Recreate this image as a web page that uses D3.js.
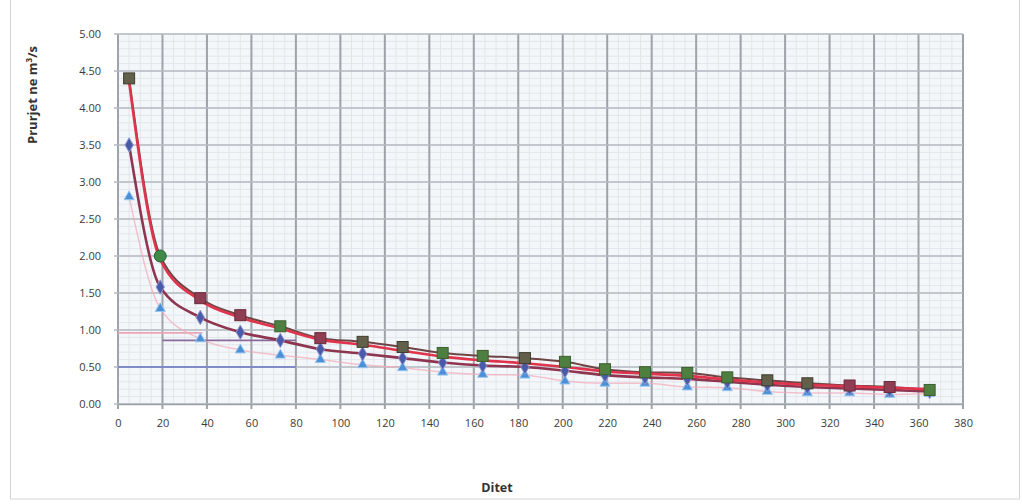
<!DOCTYPE html>
<html>
<head>
<meta charset="utf-8">
<script src="https://cdn.jsdelivr.net/npm/d3@7"></script>
<style>
  body { margin: 0; background: #fff; }
  svg text { font-family: "Open Sans", "DejaVu Sans", sans-serif; }
</style>
</head>
<body>
<div id="chart"></div>
<script>
// days of the observations
const days = [5, 19, 37, 55, 73, 91, 110, 128, 146, 164, 183, 201, 219, 237, 256, 274, 292, 310, 329, 347, 365];

// upper squares (three overlapping series, null where hidden)
const sqMaroon = [null, null, 1.43, 1.20, null, 0.89, null, null, null, null, null, null, null, null, null, null, null, null, 0.25, 0.23, null];
const sqGreen  = [null, null, null, null, 1.05, null, null, null, 0.69, 0.65, null, 0.57, 0.47, 0.43, 0.42, 0.36, null, null, null, null, 0.19];
const sqOlive  = [4.40, null, null, null, null, null, 0.84, 0.77, null, null, 0.62, null, null, null, null, null, 0.32, 0.28, null, null, null];
const sqAll    = [4.40, 2.00, 1.43, 1.20, 1.05, 0.89, 0.84, 0.77, 0.69, 0.65, 0.62, 0.57, 0.47, 0.43, 0.42, 0.36, 0.32, 0.28, 0.25, 0.23, 0.19];
const circleGreen = [null, 2.00, null, null, null, null, null, null, null, null, null, null, null, null, null, null, null, null, null, null, null];

// red fitted curve (upper) and maroon curve (lower)
const upperFit = [4.35, 1.95, 1.40, 1.17, 1.02, 0.87, 0.80, 0.72, 0.64, 0.59, 0.55, 0.50, 0.44, 0.41, 0.38, 0.33, 0.29, 0.26, 0.24, 0.22, 0.20];
const diamonds = [3.50, 1.58, 1.17, 0.97, 0.86, 0.74, 0.68, 0.62, 0.56, 0.52, 0.50, 0.45, 0.39, 0.36, 0.34, 0.30, 0.26, 0.23, 0.21, 0.19, 0.17];
const triangles = [2.80, 1.29, 0.88, 0.73, 0.66, 0.60, 0.53, 0.49, 0.43, 0.40, 0.39, 0.31, 0.28, 0.28, 0.23, 0.22, 0.17, 0.15, 0.15, 0.13, 0.14];

// short horizontal reference lines: [value, fromDay, toDay]
const refLines = [[0.96, 0, 38], [0.86, 20, 80], [0.50, 0, 80]];
const refColors = ["#eaa6b4", "#8a6a9a", "#7f8cc8"];

const xTicks = d3.range(0, 381, 20);
const yTicks = d3.range(0, 5.01, 0.5);

const W = 1022, H = 504;
const svg = d3.select("#chart").append("svg")
  .attr("width", W).attr("height", H);

// outer frame
svg.append("rect")
  .attr("x", 10.5).attr("y", -2).attr("width", 1009).attr("height", 501)
  .attr("fill", "none").attr("stroke", "#d4d4d4");

const x = d3.scaleLinear().domain([0, 380]).range([118, 963]);
const y = d3.scaleLinear().domain([0, 5]).range([404, 34]);

// plot background
svg.append("rect")
  .attr("x", x(0)).attr("y", y(5))
  .attr("width", x(380) - x(0)).attr("height", y(0) - y(5))
  .attr("fill", "#f4f7fa");

// minor grid
const grid = svg.append("g");
grid.selectAll(".vmin").data(d3.range(0, 381, 5)).join("line")
  .attr("x1", d => x(d)).attr("x2", d => x(d))
  .attr("y1", y(5)).attr("y2", y(0))
  .attr("stroke", "#e1e6ec").attr("stroke-width", 1);
grid.selectAll(".hmin").data(d3.range(0, 5.001, 0.1)).join("line")
  .attr("x1", x(0)).attr("x2", x(380))
  .attr("y1", d => y(d)).attr("y2", d => y(d))
  .attr("stroke", "#e1e6ec").attr("stroke-width", 1);

// major grid
grid.selectAll(".vmaj").data(xTicks).join("line")
  .attr("x1", d => x(d)).attr("x2", d => x(d))
  .attr("y1", y(5)).attr("y2", y(0) + 5)
  .attr("stroke", "#9ea3aa").attr("stroke-width", 2);
grid.selectAll(".hmaj").data(yTicks).join("line")
  .attr("x1", x(0) - 4).attr("x2", x(380))
  .attr("y1", d => y(d)).attr("y2", d => y(d))
  .attr("stroke", "#b4bac2").attr("stroke-width", 1.5);

// axes
const xAxis = d3.axisBottom(x).tickValues(xTicks).tickSize(0).tickPadding(15);
const yAxis = d3.axisLeft(y).tickValues(yTicks).tickFormat(d3.format(".2f")).tickSize(0).tickPadding(17);

svg.append("g").attr("transform", `translate(0,${y(0)})`).call(xAxis)
  .call(g => g.select(".domain").attr("stroke", "#9ea3aa").attr("stroke-width", 1.5))
  .selectAll("text").attr("font-size", 11).attr("fill", "#3a3a3a");
svg.append("g").attr("transform", `translate(${x(0)},0)`).call(yAxis)
  .call(g => g.select(".domain").remove())
  .selectAll("text").attr("font-size", 11).attr("fill", "#3a3a3a");

// axis titles
svg.append("text")
  .attr("transform", "translate(37,95) rotate(-90)")
  .attr("text-anchor", "middle")
  .attr("font-size", 13).attr("font-weight", "bold").attr("fill", "#333")
  .html('Prurjet ne m<tspan dy="-5" font-size="8">3</tspan><tspan dy="5">/s</tspan>');
svg.append("text")
  .attr("x", 497).attr("y", 492)
  .attr("text-anchor", "middle")
  .attr("font-size", 12.5).attr("font-weight", "bold").attr("fill", "#333")
  .text("Ditet");

// reference lines
svg.append("g").selectAll("line").data(refLines).join("line")
  .attr("x1", d => x(d[1])).attr("x2", d => x(d[2]))
  .attr("y1", d => y(d[0])).attr("y2", d => y(d[0]))
  .attr("stroke", (d, i) => refColors[i]).attr("stroke-width", 1.8);

const pts = arr => days.map((d, i) => [d, arr[i]]).filter(p => p[1] != null);
const line = d3.line().x(p => x(p[0])).y(p => y(p[1])).curve(d3.curveMonotoneX);

// curves
svg.append("path").attr("d", line(pts(triangles)))
  .attr("fill", "none").attr("stroke", "#f2a9b8").attr("stroke-width", 1.5).attr("opacity", 0.7);
svg.append("path").attr("d", line(pts(diamonds)))
  .attr("fill", "none").attr("stroke", "#8e3550").attr("stroke-width", 2.6);
svg.append("path").attr("d", line(pts(sqAll)))
  .attr("fill", "none").attr("stroke", "#6e4444").attr("stroke-width", 2);
svg.append("path").attr("d", line(pts(upperFit)))
  .attr("fill", "none").attr("stroke", "#e0344c").attr("stroke-width", 2.6);

// markers
const tri = d3.symbol().type(d3.symbolTriangle).size(45);
const dia = d3.symbol().type(d3.symbolDiamond).size(60);

svg.append("g").selectAll("path").data(pts(triangles)).join("path")
  .attr("d", tri)
  .attr("transform", p => `translate(${x(p[0])},${y(p[1])})`)
  .attr("fill", "#4b8fd6").attr("stroke", "#9cc6ee").attr("stroke-width", 1);

svg.append("g").selectAll("path").data(pts(diamonds)).join("path")
  .attr("d", dia)
  .attr("transform", p => `translate(${x(p[0])},${y(p[1])})`)
  .attr("fill", "#4a5aa8").attr("stroke", "#8e98d0").attr("stroke-width", 1);

function squares(arr, fill, stroke) {
  svg.append("g").selectAll("rect").data(pts(arr)).join("rect")
    .attr("x", p => x(p[0]) - 5.5).attr("y", p => y(p[1]) - 5.5)
    .attr("width", 11).attr("height", 11)
    .attr("fill", fill).attr("stroke", stroke).attr("stroke-width", 1);
}
squares(sqOlive, "#62604a", "#3e3d2c");
squares(sqMaroon, "#8e3d52", "#6a2a3a");
squares(sqGreen, "#4f7f40", "#3a5f2c");

svg.append("g").selectAll("circle").data(pts(circleGreen)).join("circle")
  .attr("cx", p => x(p[0])).attr("cy", p => y(p[1])).attr("r", 6)
  .attr("fill", "#3f8a48").attr("stroke", "#2a5f30");
</script>
</body>
</html>
